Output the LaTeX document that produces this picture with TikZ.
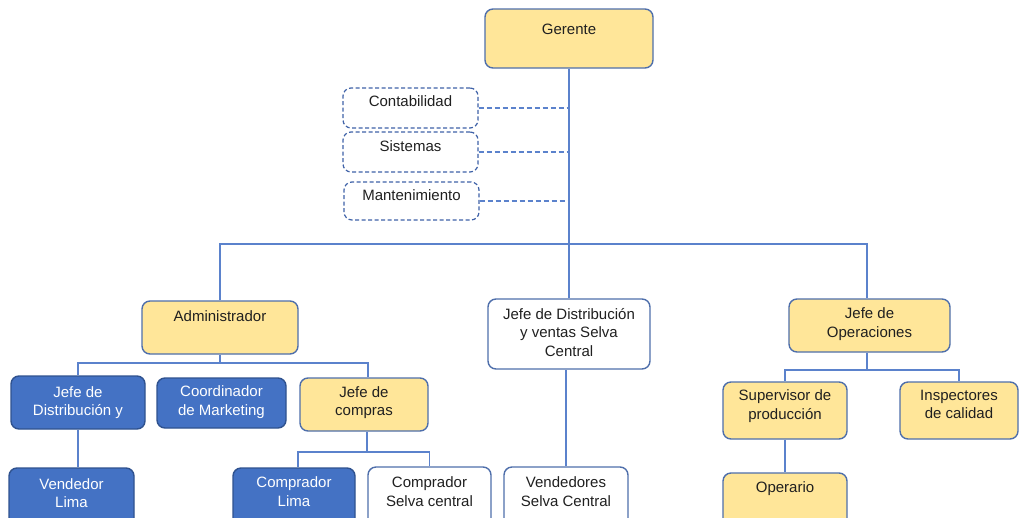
\documentclass[tikz,border=0pt]{standalone}
\usepackage{fontspec}
\setmainfont{Liberation Sans}
\definecolor{gold}{HTML}{FFE699}
\definecolor{boxedge}{HTML}{4F6FAB}
\definecolor{deepedge}{HTML}{2F528F}
\definecolor{royal}{HTML}{4472C4}
\definecolor{wire}{HTML}{5B82CC}
\definecolor{dashedge}{HTML}{3F62A8}
\definecolor{ink}{HTML}{202020}
\begin{document}
\begin{tikzpicture}[x=1pt,y=-1pt,
  box/.style={rectangle, rounded corners=8pt, inner sep=0pt, line width=1.4pt},
  ybox/.style={box, draw=boxedge, fill=gold},
  wbox/.style={box, draw=boxedge, fill=white},
  bbox/.style={box, draw=deepedge, fill=royal},
  dbox/.style={box, draw=dashedge, dash pattern=on 4pt off 2.5pt, line width=1.2pt, fill=white},
  txt/.style={anchor=north, inner sep=0pt, align=center, font=\fontsize{15}{18.5}\selectfont, text=ink},
  wtxt/.style={txt, text=white},
  link/.style={draw=wire, line width=1.3pt},
  dlink/.style={draw=wire, line width=1.3pt, dash pattern=on 5pt off 3pt},
]
\useasboundingbox (0,0) rectangle (1019,517);
\clip (0,0) rectangle (1019,517);

% boxes
\node[ybox, minimum width=168pt, minimum height=59pt] (ger) at (569,38.5) {};
\node[dbox, minimum width=135pt, minimum height=40pt] (conta) at (410.5,108) {};
\node[dbox, minimum width=135pt, minimum height=40pt] (sist) at (410.5,152) {};
\node[dbox, minimum width=135pt, minimum height=38pt] (mant) at (411.5,201) {};
\node[ybox, minimum width=156pt, minimum height=53pt] (admin) at (220,327.5) {};
\node[wbox, minimum width=162pt, minimum height=70pt] (jdist) at (569,334) {};
\node[ybox, minimum width=161pt, minimum height=53pt] (ops) at (869.5,325.5) {};
\node[bbox, minimum width=134pt, minimum height=53pt] (jdv) at (78,402.5) {};
\node[bbox, minimum width=129pt, minimum height=50pt] (coord) at (221.5,403) {};
\node[ybox, minimum width=128pt, minimum height=53pt] (jcomp) at (364,404.5) {};
\node[bbox, minimum width=125pt, minimum height=72pt] (vlima) at (71.5,504) {};
\node[bbox, minimum width=122pt, minimum height=72pt] (clima) at (294,504) {};
\node[wbox, minimum width=123pt, minimum height=73pt] (cselva) at (429.5,503.5) {};
\node[wbox, minimum width=124pt, minimum height=73pt] (vsc) at (566,503.5) {};
\node[ybox, minimum width=124pt, minimum height=57pt] (sup) at (785,410.5) {};
\node[ybox, minimum width=118pt, minimum height=57pt] (insp) at (959,410.5) {};
\node[ybox, minimum width=124pt, minimum height=67pt] (oper) at (785,506.5) {};

% labels
\node[txt, yshift=-16pt] (ger-t) at (ger.north) {Gerente};
\node[txt, yshift=-8pt] (conta-t) at (conta.north) {Contabilidad};
\node[txt, yshift=-9pt] (sist-t) at (sist.north) {Sistemas};
\node[txt, yshift=-8.5pt] (mant-t) at (mant.north) {Mantenimiento};
\node[txt, yshift=-10pt] (admin-t) at (admin.north) {Administrador};
\node[txt, yshift=-9.5pt] (jdist-t) at (jdist.north) {Jefe de Distribución\\y ventas Selva\\Central};
\node[txt, yshift=-9.5pt] (ops-t) at (ops.north) {Jefe de\\Operaciones};
\node[wtxt, yshift=-11pt] (jdv-t) at (jdv.north) {Jefe de\\Distribución y};
\node[wtxt, yshift=-8.5pt] (coord-t) at (coord.north) {Coordinador\\de Marketing};
\node[txt, yshift=-9pt] (jcomp-t) at (jcomp.north) {Jefe de\\compras};
\node[wtxt, yshift=-11pt] (vlima-t) at (vlima.north) {Vendedor\\Lima};
\node[wtxt, yshift=-9.5pt] (clima-t) at (clima.north) {Comprador\\Lima};
\node[txt, yshift=-10.5pt] (cselva-t) at (cselva.north) {Comprador\\Selva central};
\node[txt, yshift=-10.5pt] (vsc-t) at (vsc.north) {Vendedores\\Selva Central};
\node[txt, yshift=-8.5pt] (sup-t) at (sup.north) {Supervisor de\\producción};
\node[txt, yshift=-8.5pt] (insp-t) at (insp.north) {Inspectores\\de calidad};
\node[txt, yshift=-9.5pt] (oper-t) at (oper.north) {Operario};

% staff units (dashed)
\draw[dlink] (conta.east) -- (conta.east -| ger.south);
\draw[dlink] (sist.east) -- (sist.east -| ger.south);
\draw[dlink] (mant.east) -- (mant.east -| ger.south);

% top level
\coordinate (bus1) at (0,244);
\coordinate (op-in) at ([xshift=-2.5pt]ops.north);
\coordinate (op-out) at ([xshift=-2.5pt]ops.south);
\draw[link] (ger.south) -- (ger.south |- bus1);
\draw[link] (admin.north) |- (op-in |- bus1) -- (op-in);
\draw[link] (jdist.north) -- (jdist.north |- bus1);

% administrador branch
\coordinate (bus2) at (0,363);
\coordinate (jc-in) at ([xshift=4pt]jcomp.north);
\draw[link] (admin.south) -- (admin.south |- bus2);
\draw[link] (jdv.north) |- (jc-in |- bus2) -- (jc-in);
\draw[link] (jdv.south) -- (jdv.south |- vlima.north);
\coordinate (bus3) at (0,452);
\coordinate (jc-out) at ([xshift=3pt]jcomp.south);
\coordinate (cl-in) at ([xshift=4pt]clima.north);
\draw[link] (jc-out) -- (jc-out |- bus3);
\draw[link] (cl-in) |- (cselva.north |- bus3) -- (cselva.north);

% distribucion branch
\draw[link] (vsc.north) -- (vsc.north |- jdist.south);

% operaciones branch
\coordinate (bus4) at (0,370);
\draw[link] (op-out) -- (op-out |- bus4);
\draw[link] (sup.north) |- (insp.north |- bus4) -- (insp.north);
\draw[link] (sup.south) -- (sup.south |- oper.north);
\end{tikzpicture}
\end{document}
